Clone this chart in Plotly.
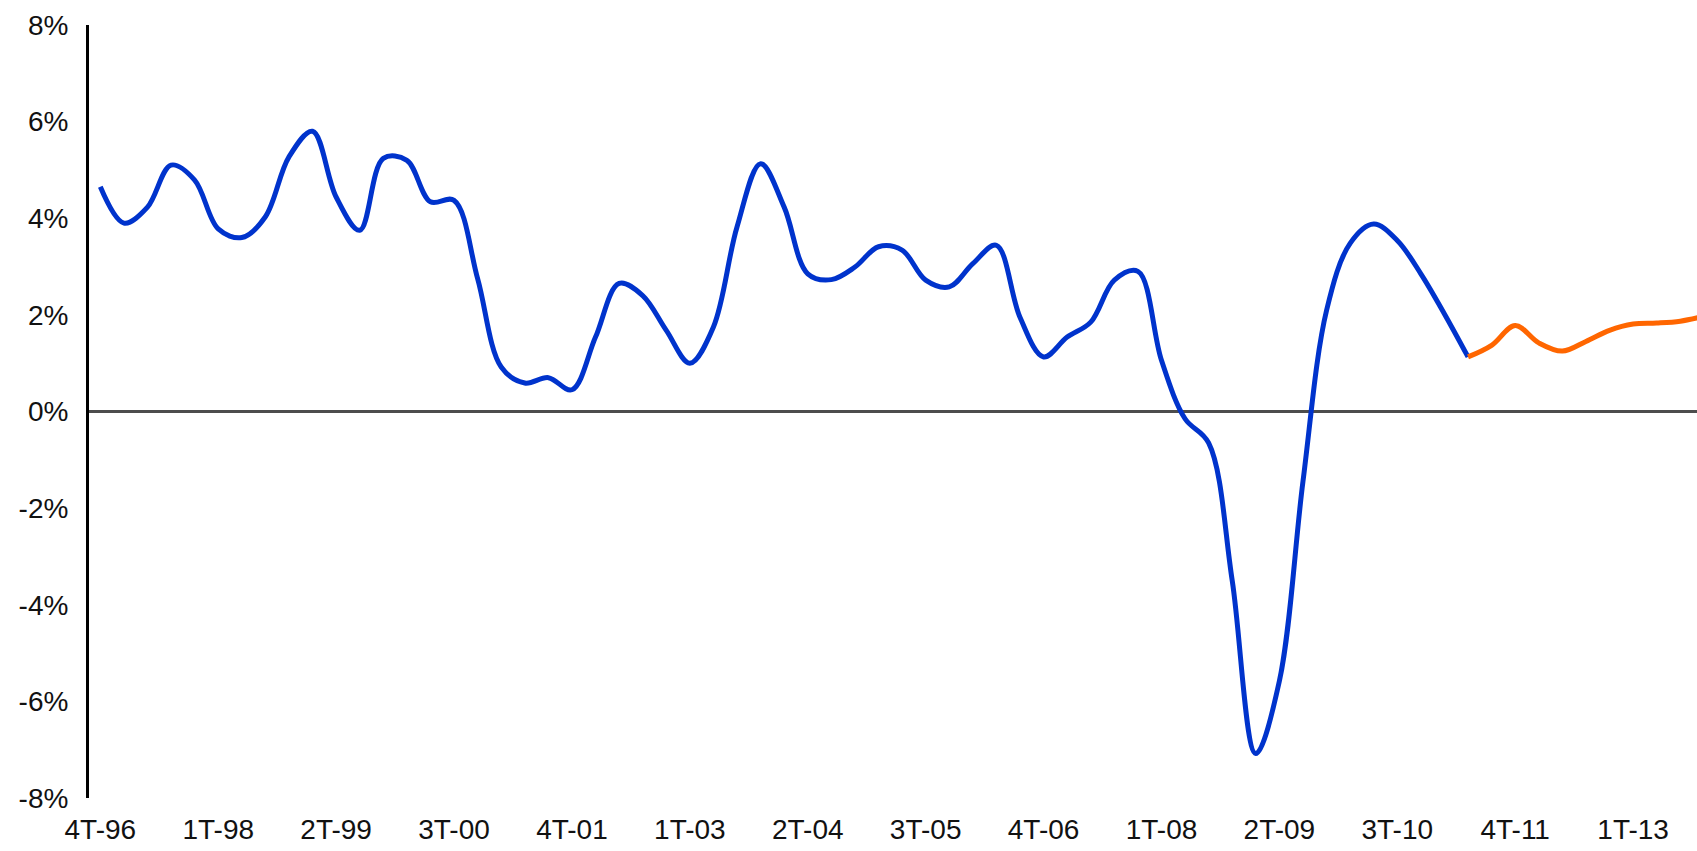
import plotly.graph_objects as go

# Quarterly labels (every 5th quarter shown)
tick_labels = ["4T-96", "1T-98", "2T-99", "3T-00", "4T-01", "1T-03", "2T-04",
               "3T-05", "4T-06", "1T-08", "2T-09", "3T-10", "4T-11", "1T-13"]
tick_positions = [i * 5 for i in range(len(tick_labels))]

# Historical series (quarter index 0 = 4T-96)
hist_values = [4.65, 3.90, 4.23, 5.10, 4.79, 3.78, 3.60, 4.03, 5.27, 5.80,
               4.44, 3.75, 5.24, 5.20, 4.34, 4.37, 2.75, 0.92, 0.59, 0.70,
               0.45, 1.54, 2.65, 2.40, 1.68, 1.00, 1.75, 3.82, 5.13, 4.23,
               2.85, 2.73, 2.99, 3.41, 3.34, 2.72, 2.58, 3.06, 3.44, 1.95,
               1.13, 1.54, 1.85, 2.72, 2.90, 1.06, -0.15, -0.65, -3.50, -7.08,
               -5.58, -1.45, 2.09, 3.48, 3.88, 3.54, 2.85, 2.02, 1.13]
hist_x = list(range(len(hist_values)))

# Forecast series (starts at last historical quarter)
fcst_values = [1.13, 1.37, 1.78, 1.42, 1.25, 1.45, 1.68, 1.81, 1.83, 1.87, 1.97]
fcst_x = list(range(len(hist_values) - 1, len(hist_values) - 1 + len(fcst_values)))

y_ticks = [-8, -6, -4, -2, 0, 2, 4, 6, 8]
y_tick_labels = ["-8%", "-6%", "-4%", "-2%", "0%", "2%", "4%", "6%", "8%"]

fig = go.Figure()
fig.add_trace(go.Scatter(x=hist_x, y=hist_values, mode="lines", name="Histórico",
                         line=dict(color="#0033CC", width=5, shape="spline", smoothing=1.0)))
fig.add_trace(go.Scatter(x=fcst_x, y=fcst_values, mode="lines", name="Previsión",
                         line=dict(color="#FF6600", width=5, shape="spline", smoothing=1.0)))

font = dict(family="Liberation Sans, Arial, sans-serif", size=28, color="#111111")

fig.update_layout(
    width=1697, height=851,
    margin=dict(l=89, r=0, t=25, b=53),
    paper_bgcolor="white", plot_bgcolor="white",
    showlegend=False,
    font=font,
    xaxis=dict(range=[-0.48, 67.71], tickvals=tick_positions, ticktext=tick_labels,
               showgrid=False, zeroline=False, showline=False, ticks="",
               tickfont=font, ticklabelstandoff=12),
    yaxis=dict(range=[-8, 8], tickvals=y_ticks, ticktext=y_tick_labels,
               showgrid=False, zeroline=True, zerolinecolor="#4d4d4d", zerolinewidth=3,
               showline=True, linecolor="#000000", linewidth=3, ticks="",
               tickfont=font, ticklabelstandoff=12),
)

fig.write_html("out.html")
